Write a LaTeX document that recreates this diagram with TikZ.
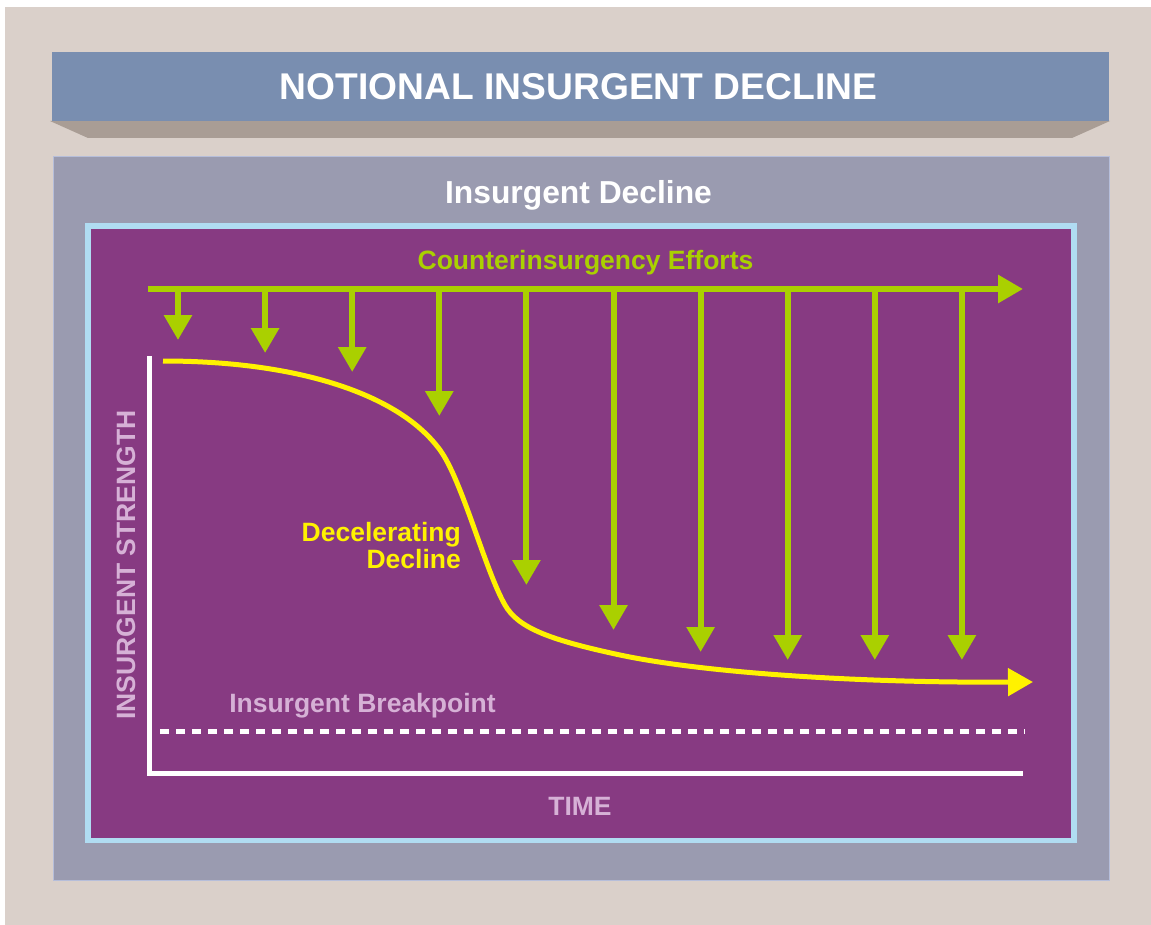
\documentclass[tikz,border=0pt]{standalone}
\usepackage{fontspec}
\setsansfont{Liberation Sans}
\usetikzlibrary{arrows.meta}

\definecolor{tanbg}{HTML}{DAD0CA}
\definecolor{titleblue}{HTML}{798EB0}
\definecolor{titleshadow}{HTML}{A99D95}
\definecolor{panelgrey}{HTML}{9A9BB0}
\definecolor{panelline}{HTML}{B6BEDA}
\definecolor{framblue}{HTML}{B0DCF2}
\definecolor{plotpurple}{HTML}{873A82}
\definecolor{effortgreen}{HTML}{AAD000}
\definecolor{declineyellow}{HTML}{FFF200}
\definecolor{axispink}{HTML}{D6B1D6}

\begin{document}
\begin{tikzpicture}[x=1pt,y=-1pt,
    lbl/.style={font=\sffamily\bfseries\fontsize{26.5}{27}\selectfont, inner sep=0pt},
    effort/.style={draw=effortgreen, line width=6pt, -{Triangle[width=27pt,length=25pt]}},
    decline/.style={draw=declineyellow, line width=5pt, -{Triangle[width=27pt,length=25pt]}}]
      \useasboundingbox (0,0) rectangle (1151,925);
      \fill[white] (0,0) rectangle (1151,925);
      \fill[tanbg] (5,7) rectangle (1151,925);

      % title bar
      \fill[titleshadow] (50,121) -- (1110,121) -- (1072,138) -- (88,138) -- cycle;
      \fill[titleblue] (52,52) rectangle (1109,121);
      \node[lbl, white, anchor=base, font=\sffamily\bfseries\fontsize{37.2}{40}\selectfont] (title) at (578.5,100) {NOTIONAL INSURGENT DECLINE};

      % panel and plot area
      \draw[panelline, fill=panelgrey, line width=1pt] (53,157) rectangle (1109,880);
      \node[lbl, white, anchor=base, font=\sffamily\bfseries\fontsize{31.8}{34}\selectfont] (panel) at (578.5,204) {Insurgent Decline};
      \draw[framblue, fill=plotpurple, line width=5.5pt] (87.8,226) rectangle (1074,840.5);

      % counterinsurgency efforts
      \coordinate (effortstart) at (148,289);
      \coordinate (effortend) at (1023,289);
      \draw[effort, line cap=butt] (effortstart) -- (effortend);
      \node[lbl, effortgreen, anchor=base] (efforts) at (585.5,270) {Counterinsurgency Efforts};
      \foreach \i/\tip in {0/340, 1/353, 2/372, 3/416, 4/585, 5/630, 6/652, 7/660, 8/660, 9/660}
        \draw[effort] (178+87.1*\i,289) -- (178+87.1*\i,\tip);

      % axes and breakpoint
      \coordinate (ytop) at (149,356);
      \coordinate (origin) at (149,773.5);
      \coordinate (xend) at (1023,773.5);
      \draw[white, line width=5pt] (ytop) -- (origin) -- (xend);
      \node[lbl, axispink, rotate=90, anchor=base] (strength) at (135,565) {INSURGENT STRENGTH};
      \node[lbl, axispink, anchor=base] (time) at (580,815) {TIME};

      \coordinate (breakstart) at (160,731);
      \coordinate (breakend) at (1025,731);
      \draw[white, line width=5pt, dash pattern=on 9pt off 7pt] (breakstart) -- (breakend);
      \node[lbl, axispink, anchor=base] (breakpoint) at (362.5,712) {Insurgent Breakpoint};

      % decline curve
      \coordinate (declinestart) at (163,361);
      \coordinate (declineend) at (1033,682);
      \draw[decline] (declinestart) .. controls (300,361) and (400,395) .. (440,450)
        .. controls (462,480) and (485,570) .. (505,605)
        .. controls (518,628) and (550,640) .. (620,655)
        .. controls (700,672) and (850,683) .. (declineend);
      \node[lbl, declineyellow, anchor=east, align=right] (decel) at (461,545.5) {Decelerating\\Decline};
\end{tikzpicture}
\end{document}
